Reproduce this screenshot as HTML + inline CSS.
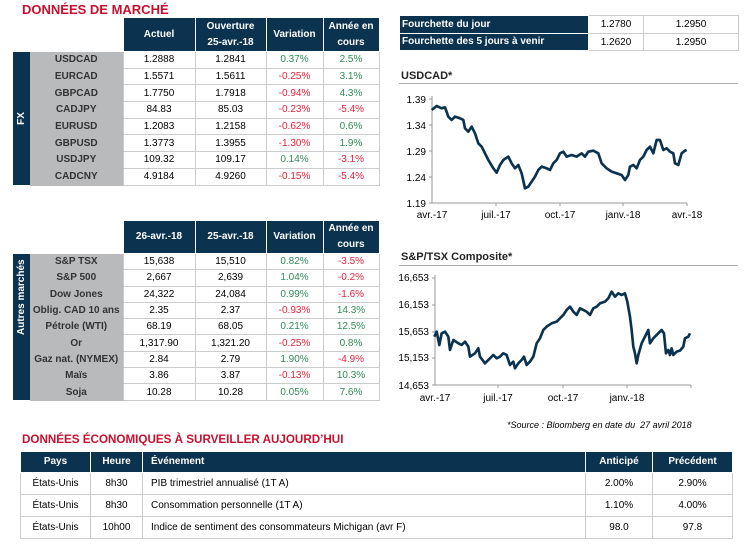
<!DOCTYPE html>
<html><head><meta charset="utf-8"><style>
body{margin:0;width:747px;height:551px;background:#fff;position:relative;font-family:"Liberation Sans",sans-serif;overflow:hidden}
.a{position:absolute}
.red{color:#c8102e;font-weight:bold;font-size:13px}
table{border-collapse:collapse;table-layout:fixed;position:absolute;font-size:10px}
td,th{padding:0;text-align:center;overflow:hidden;white-space:nowrap}
th{background:#0b3350;color:#fff;font-weight:bold;border:1px solid #fff;line-height:16px}
td.l{background:#b9babc;color:#333;font-weight:bold;border-bottom:1px solid #b9babc}
td.d{border:1px solid #ccc;color:#000}
td.g{color:#2e8b57}td.r{color:#e8203a}
.side{background:#0b3350;color:#fff;font-weight:bold;font-size:10px}
.ct{font-size:11px;font-weight:bold;color:#222}
svg text{font-family:"Liberation Sans",sans-serif;font-size:10px;fill:#000}
</style></head><body>
<div class="a red" style="left:22px;top:2px">DONNÉES DE MARCHÉ</div>

<table style="left:13px;top:17px;width:366px">
<colgroup><col style="width:17px"><col style="width:93px"><col style="width:72px"><col style="width:71px"><col style="width:57px"><col style="width:56px"></colgroup>
<tr style="height:34px"><td style="background:#fff"></td><td style="background:#fff"></td><th>Actuel</th><th>Ouverture<br>25-avr.-18</th><th>Variation</th><th>Année en<br>cours</th></tr>
<tr style="height:16.7px"><td class="side" rowspan="8"><div style="transform:rotate(-90deg)">FX</div></td><td class="l">USDCAD</td><td class="d">1.2888</td><td class="d">1.2841</td><td class="d g">0.37%</td><td class="d g">2.5%</td></tr>
<tr style="height:16.7px"><td class="l">EURCAD</td><td class="d">1.5571</td><td class="d">1.5611</td><td class="d r">-0.25%</td><td class="d g">3.1%</td></tr>
<tr style="height:16.7px"><td class="l">GBPCAD</td><td class="d">1.7750</td><td class="d">1.7918</td><td class="d r">-0.94%</td><td class="d g">4.3%</td></tr>
<tr style="height:16.7px"><td class="l">CADJPY</td><td class="d">84.83</td><td class="d">85.03</td><td class="d r">-0.23%</td><td class="d r">-5.4%</td></tr>
<tr style="height:16.7px"><td class="l">EURUSD</td><td class="d">1.2083</td><td class="d">1.2158</td><td class="d r">-0.62%</td><td class="d g">0.6%</td></tr>
<tr style="height:16.7px"><td class="l">GBPUSD</td><td class="d">1.3773</td><td class="d">1.3955</td><td class="d r">-1.30%</td><td class="d g">1.9%</td></tr>
<tr style="height:16.7px"><td class="l">USDJPY</td><td class="d">109.32</td><td class="d">109.17</td><td class="d g">0.14%</td><td class="d r">-3.1%</td></tr>
<tr style="height:16.7px"><td class="l">CADCNY</td><td class="d">4.9184</td><td class="d">4.9260</td><td class="d r">-0.15%</td><td class="d r">-5.4%</td></tr>
</table>

<table style="left:13px;top:220px;width:366px">
<colgroup><col style="width:17px"><col style="width:93px"><col style="width:72px"><col style="width:71px"><col style="width:57px"><col style="width:56px"></colgroup>
<tr style="height:28px"><td style="background:#fff"></td><td style="background:#fff"></td><th>26-avr.-18</th><th>25-avr.-18</th><th>Variation</th><th>Année en<br>cours</th></tr>
<tr style="height:16.3px"><td class="side" rowspan="9"><div style="transform:rotate(-90deg);white-space:nowrap;width:17px;margin-left:0">Autres marchés</div></td><td class="l">S&amp;P TSX</td><td class="d">15,638</td><td class="d">15,510</td><td class="d g">0.82%</td><td class="d r">-3.5%</td></tr>
<tr style="height:16.3px"><td class="l">S&amp;P 500</td><td class="d">2,667</td><td class="d">2,639</td><td class="d g">1.04%</td><td class="d r">-0.2%</td></tr>
<tr style="height:16.3px"><td class="l">Dow Jones</td><td class="d">24,322</td><td class="d">24,084</td><td class="d g">0.99%</td><td class="d r">-1.6%</td></tr>
<tr style="height:16.3px"><td class="l">Oblig. CAD 10 ans</td><td class="d">2.35</td><td class="d">2.37</td><td class="d r">-0.93%</td><td class="d g">14.3%</td></tr>
<tr style="height:16.3px"><td class="l">Pétrole (WTI)</td><td class="d">68.19</td><td class="d">68.05</td><td class="d g">0.21%</td><td class="d g">12.5%</td></tr>
<tr style="height:16.3px"><td class="l">Or</td><td class="d">1,317.90</td><td class="d">1,321.20</td><td class="d r">-0.25%</td><td class="d g">0.8%</td></tr>
<tr style="height:16.3px"><td class="l">Gaz nat. (NYMEX)</td><td class="d">2.84</td><td class="d">2.79</td><td class="d g">1.90%</td><td class="d r">-4.9%</td></tr>
<tr style="height:16.3px"><td class="l">Maïs</td><td class="d">3.86</td><td class="d">3.87</td><td class="d r">-0.13%</td><td class="d g">10.3%</td></tr>
<tr style="height:16.3px"><td class="l">Soja</td><td class="d">10.28</td><td class="d">10.28</td><td class="d g">0.05%</td><td class="d g">7.6%</td></tr>
</table>

<table style="left:399px;top:15px;width:339px">
<colgroup><col style="width:189px"><col style="width:55px"><col style="width:95px"></colgroup>
<tr style="height:18px"><th style="text-align:left;padding-left:2px">Fourchette du jour</th><td class="d">1.2780</td><td class="d">1.2950</td></tr>
<tr style="height:17px"><th style="text-align:left;padding-left:2px">Fourchette des 5 jours à venir</th><td class="d">1.2620</td><td class="d">1.2950</td></tr>
</table>

<div class="a ct" style="left:401px;top:70px">USDCAD*</div>
<div class="a" style="left:399px;top:83px;width:339px;height:1px;background:#aaa"></div>
<div class="a ct" style="left:401px;top:251px">S&amp;P/TSX Composite*</div>
<div class="a" style="left:399px;top:265px;width:339px;height:1px;background:#aaa"></div>
<div class="a" style="left:507px;top:420px;font-size:9px;font-style:italic;color:#000">*Source : Bloomberg en date du&nbsp; 27 avril 2018</div>

<svg class="a" style="left:0;top:0" width="747" height="551">
<g stroke="#999" stroke-width="1" fill="none">
<path d="M432,96V203H687"/>
<path d="M429,99h3M429,125h3M429,151h3M429,177h3M429,203h3M496,203v3M560,203v3M623,203v3M687,203v3"/>
<path d="M435,275V385H691"/>
<path d="M432,278h3M432,305h3M432,332h3M432,358h3M432,385h3M498,385v3M563,385v3M627,385v3M691,385v3"/>
</g>
<g text-anchor="end"><text x="426" y="103">1.39</text><text x="426" y="129">1.34</text><text x="426" y="155">1.29</text><text x="426" y="181">1.24</text><text x="426" y="207">1.19</text>
<text x="429" y="281">16,653</text><text x="429" y="308">16,153</text><text x="429" y="335">15,653</text><text x="429" y="361">15,153</text><text x="429" y="389">14,653</text></g>
<g text-anchor="middle"><text x="432" y="218">avr.-17</text><text x="496" y="218">juil.-17</text><text x="560" y="218">oct.-17</text><text x="623" y="218">janv.-18</text><text x="687" y="218">avr.-18</text>
<text x="435" y="401">avr.-17</text><text x="498" y="401">juil.-17</text><text x="563" y="401">oct.-17</text><text x="627" y="401">janv.-18</text></g>
<g transform="translate(380,0) scale(0.3333)" fill="none" stroke="#0b3350" stroke-width="8" stroke-linejoin="round">
<polyline points="155,330 170,318 185,325 195,322 205,350 215,360 225,350 240,355 250,360 255,385 265,395 275,380 285,400 295,430 305,440 315,460 325,480 340,505 350,518 360,495 370,480 385,470 395,490 405,505 415,495 425,520 435,565 445,560 455,545 465,530 475,510 485,500 500,505 510,510 520,490 530,480 540,460 550,455 560,470 575,465 590,470 605,460 615,470 625,455 640,452 655,460 665,490 680,505 695,515 710,520 725,525 735,540 745,525 750,500 760,495 770,505 780,480 790,470 800,450 810,440 820,460 830,420 840,420 850,450 860,445 870,455 880,460 885,490 895,495 905,460 915,452 920,450"/>
</g>
<g transform="translate(380,230) scale(0.3333)" fill="none" stroke="#0b3350" stroke-width="8" stroke-linejoin="round">
<polyline points="163,320 170,305 178,345 185,310 195,305 205,320 210,360 220,330 235,340 245,345 255,335 265,350 270,380 285,370 295,355 300,380 315,400 330,385 340,375 350,385 360,380 370,370 380,375 390,405 400,395 405,415 415,400 425,390 432,380 440,405 450,395 460,380 470,340 480,325 490,300 500,290 515,280 530,275 540,265 550,255 560,240 570,230 580,245 590,255 600,235 610,240 620,245 630,255 640,235 650,230 660,220 675,215 685,205 695,185 705,200 715,190 725,195 735,190 742,215 750,260 755,300 760,350 765,370 770,400 775,375 785,340 795,320 805,300 810,340 820,325 830,315 845,300 852,310 858,370 865,360 870,375 875,355 880,375 890,365 900,362 910,350 915,325 925,320 930,310"/>
</g>
</svg>

<div class="a red" style="left:22px;top:432px;font-size:12px;transform:scaleX(0.97);transform-origin:left">DONNÉES ÉCONOMIQUES À SURVEILLER AUJOURD’HUI</div>
<table style="left:20px;top:451px;width:712px;font-size:10px">
<colgroup><col style="width:70px"><col style="width:52px"><col style="width:443px"><col style="width:67px"><col style="width:80px"></colgroup>
<tr style="height:21px"><th>Pays</th><th>Heure</th><th style="text-align:left;padding-left:8px">Événement</th><th>Anticipé</th><th>Précédent</th></tr>
<tr style="height:22px"><td class="d">États-Unis</td><td class="d">8h30</td><td class="d" style="text-align:left;padding-left:8px">PIB trimestriel annualisé (1T A)</td><td class="d">2.00%</td><td class="d">2.90%</td></tr>
<tr style="height:22px"><td class="d">États-Unis</td><td class="d">8h30</td><td class="d" style="text-align:left;padding-left:8px">Consommation personnelle (1T A)</td><td class="d">1.10%</td><td class="d">4.00%</td></tr>
<tr style="height:22px"><td class="d">États-Unis</td><td class="d">10h00</td><td class="d" style="text-align:left;padding-left:8px">Indice de sentiment des consommateurs Michigan (avr F)</td><td class="d">98.0</td><td class="d">97.8</td></tr>
</table>
</body></html>
